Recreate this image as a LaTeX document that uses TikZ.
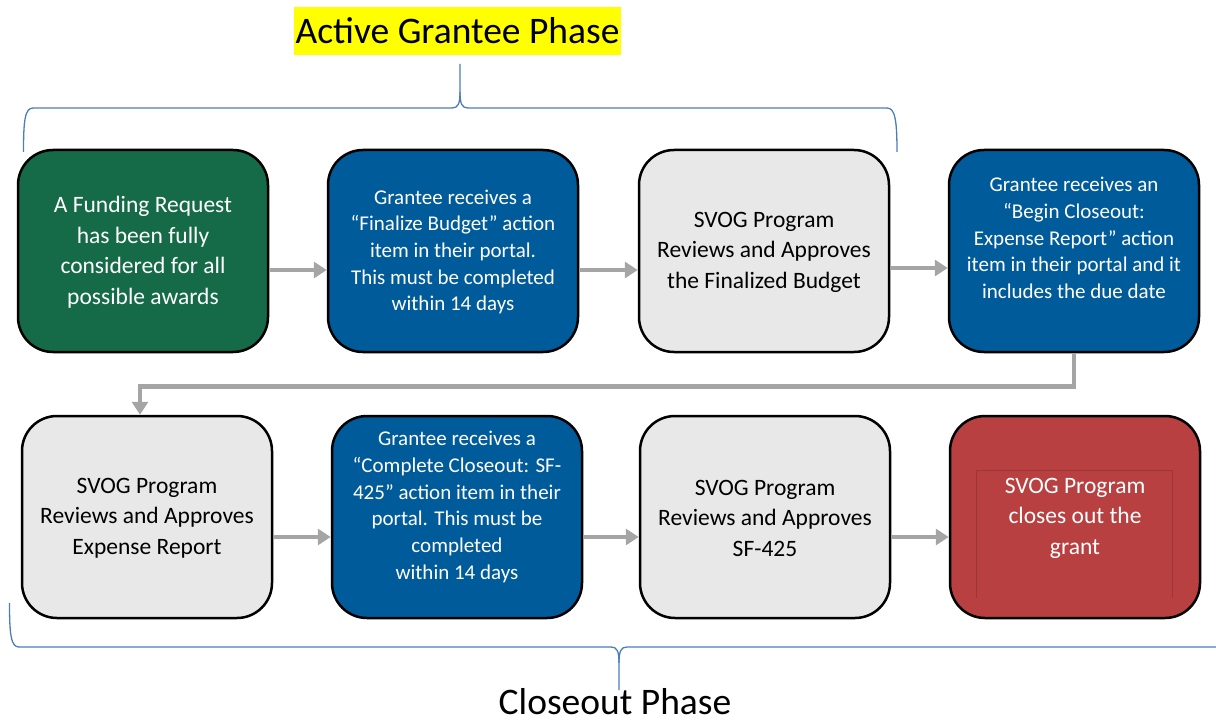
\documentclass[tikz,border=0pt]{standalone}
\usepackage{fontspec}
\setmainfont{Carlito}
\usetikzlibrary{arrows.meta}
\definecolor{cgreen}{HTML}{156B47}
\definecolor{cblue}{HTML}{005B9A}
\definecolor{cgrey}{HTML}{E8E8E8}
\definecolor{cred}{HTML}{B94040}
\definecolor{carrow}{HTML}{A5A5A5}
\definecolor{cbrace}{HTML}{4A7EBB}
\definecolor{cyel}{HTML}{FFFF00}
\definecolor{cinner}{HTML}{9E3535}
\begin{document}
\begin{tikzpicture}[x=1pt,y=-1pt,
  box/.style={draw=black, line width=2.5pt, rounded corners=35pt, minimum width=250pt, minimum height=202pt, inner sep=0pt},
  bigtxt/.style={align=center, font=\fontsize{23.5}{30.5}\selectfont},
  smalltxt/.style={align=center, font=\fontsize{21}{26.7}\selectfont},
  arr/.style={draw=carrow, line width=4.5pt, -{Triangle[length=13pt,width=16pt]}},
  brace/.style={draw=cbrace, line width=1.3pt},
  phase/.style={font=\fontsize{37.5}{40}\selectfont, inner sep=0pt}]
\useasboundingbox (0,0) rectangle (1216,722);

% title
\node[phase, fill=cyel, minimum width=327pt, minimum height=48pt] (title) at (457.5,31) {Active Grantee Phase};
\node[phase, anchor=base, text depth=0pt] (close) at (615,714) {Closeout Phase};

% braces
\draw[brace] (23.5,152) .. controls (23.5,120) and (25,108) .. (33,108) -- (452,108) .. controls (458,108) and (460,104) .. (460,92) -- (460,64);
\draw[brace] (460,92) .. controls (460,104) and (462,108) .. (468,108) -- (887,108) .. controls (895,108) and (897,120) .. (897,152);
\draw[brace] (9.5,603) .. controls (9.5,635) and (11,647) .. (19,647) -- (611,647) .. controls (617,647) and (619,651) .. (619,663) -- (619,690);
\draw[brace] (619,663) .. controls (619,651) and (621,647) .. (627,647) -- (1216,647);

% boxes row 1
\node[box, fill=cgreen] (b1) at (143,251) {};
\node[box, fill=cblue] (b2) at (453,251) {};
\node[box, fill=cgrey] (b3) at (764,251) {};
\node[box, fill=cblue] (b4) at (1074,251) {};
% boxes row 2
\node[box, fill=cgrey] (b5) at (147,517) {};
\node[box, fill=cblue] (b6) at (457,517) {};
\node[box, fill=cgrey] (b7) at (765,517) {};
\node[box, fill=cred] (b8) at (1075,517) {};
\draw[cinner, line width=0.6pt] (976,598) |- (1172,470) -- (1172,598);

% texts
\node[bigtxt, text=white] (t1) at (143,252) {A Funding Request\\has been fully\\considered for all\\possible awards};
\node[smalltxt, text=white] (t2) at (453,252) {Grantee receives a\\“Finalize Budget” action\\item in their portal.\\This must be completed\\within 14 days};
\node[bigtxt, text=black] (t3) at (764,252) {SVOG Program\\Reviews and Approves\\the Finalized Budget};
\node[smalltxt, text=white] (t4) at (1074,238) {Grantee receives an\\“Begin Closeout:\\Expense Report” action\\item in their portal and it\\includes the due date};
\node[bigtxt, text=black] (t5) at (147,518) {SVOG Program\\Reviews and Approves\\Expense Report};
\node[smalltxt, text=white] (t6) at (457,507) {Grantee receives a\\“Complete Closeout: SF-\\425” action item in their\\portal. This must be\\completed\\within 14 days};
\node[bigtxt, text=black] (t7) at (765,518) {SVOG Program\\Reviews and Approves\\SF-425};
\node[bigtxt, text=white] (t8) at (1075,518) {SVOG Program\\closes out the\\grant};

% arrows
\draw[arr] ([yshift=-19pt]b1.east) -- ([yshift=-19pt]b2.west);
\draw[arr] ([yshift=-19pt]b2.east) -- ([yshift=-19pt]b3.west);
\draw[arr] ([yshift=-17pt]b3.east) -- ([yshift=-17pt]b4.west);
\draw[arr] (b4.south) -- ++(0,33) -| ([xshift=-7pt]b5.north);
\draw[arr] ([yshift=-20pt]b5.east) -- ([yshift=-20pt]b6.west);
\draw[arr] ([yshift=-20pt]b6.east) -- ([yshift=-20pt]b7.west);
\draw[arr] ([yshift=-20pt]b7.east) -- ([yshift=-20pt]b8.west);
\end{tikzpicture}
\end{document}
